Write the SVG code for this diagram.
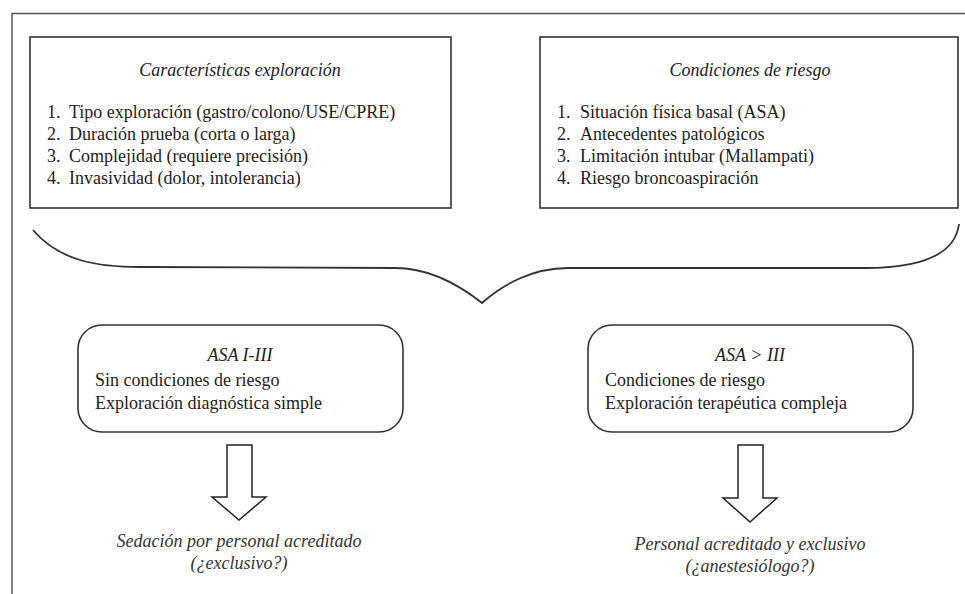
<svg xmlns="http://www.w3.org/2000/svg" width="965" height="594" viewBox="0 0 965 594">
<style>
  .frame { fill: none; stroke: #555; stroke-width: 1.5; }
  .box { fill: #fff; stroke: #333; stroke-width: 1.6; }
  .conn { fill: none; stroke: #333; stroke-width: 1.8; }
  .arrow { fill: #fff; stroke: #222; stroke-width: 1.5; stroke-linejoin: miter; }
  text { font-family: "Liberation Serif", "Times New Roman", serif; font-size: 18px; fill: #222; }
  .it { font-style: italic; }
  .mid { text-anchor: middle; }
  .out { fill: #333; }
</style>
<rect width="965" height="594" fill="#fff"/>
<path class="frame" d="M12,594 L12,13.5 L965,13.5"/>

<g id="caracteristicas">
  <rect class="box" x="30" y="37" width="421" height="171"/>
  <text class="it mid" x="240" y="76">Características exploración</text>
  <text x="47" y="118">1.</text><text x="69" y="118">Tipo exploración (gastro/colono/USE/CPRE)</text>
  <text x="47" y="140">2.</text><text x="69" y="140">Duración prueba (corta o larga)</text>
  <text x="47" y="162">3.</text><text x="69" y="162">Complejidad (requiere precisión)</text>
  <text x="47" y="184">4.</text><text x="69" y="184">Invasividad (dolor, intolerancia)</text>
</g>

<g id="condiciones">
  <rect class="box" x="540" y="37" width="418" height="171"/>
  <text class="it mid" x="750" y="76">Condiciones de riesgo</text>
  <text x="557" y="118">1.</text><text x="580" y="118">Situación física basal (ASA)</text>
  <text x="557" y="140">2.</text><text x="580" y="140">Antecedentes patológicos</text>
  <text x="557" y="162">3.</text><text x="580" y="162">Limitación intubar (Mallampati)</text>
  <text x="557" y="184">4.</text><text x="580" y="184">Riesgo broncoaspiración</text>
</g>

<g id="asa1-3">
  <rect class="box" x="78" y="325" width="325" height="107" rx="24" ry="24"/>
  <text class="it mid" x="240" y="361">ASA I-III</text>
  <text x="95" y="386">Sin condiciones de riesgo</text>
  <text x="95" y="409">Exploración diagnóstica simple</text>
</g>

<g id="asa-mayor3">
  <rect class="box" x="588" y="325" width="325" height="107" rx="24" ry="24"/>
  <text class="it mid" x="750" y="361">ASA &gt; III</text>
  <text x="605" y="386">Condiciones de riesgo</text>
  <text x="605" y="409">Exploración terapéutica compleja</text>
</g>

<g id="sedacion">
  <text class="it mid out" x="239" y="547">Sedación por personal acreditado</text>
  <text class="it mid out" x="239" y="569">(¿exclusivo?)</text>
</g>

<g id="anestesiologo">
  <text class="it mid out" x="750" y="550">Personal acreditado y exclusivo</text>
  <text class="it mid out" x="750" y="572">(¿anestesiólogo?)</text>
</g>

<g id="connectors">
  <path class="conn" d="M33,230 C60,262 100,267 140,267 L395,268 C428,268 458,284 482,303 C502,285 532,268 568,268 L865,268 C918,268 955,256 959,224"/>
  <path class="arrow" d="M227,445 L252,445 L252,497 L266,497 L239,520 L212,497 L227,497 Z"/>
  <path class="arrow" d="M738,445 L763,445 L763,498 L777,498 L750,522 L723,498 L738,498 Z"/>
</g>
</svg>
